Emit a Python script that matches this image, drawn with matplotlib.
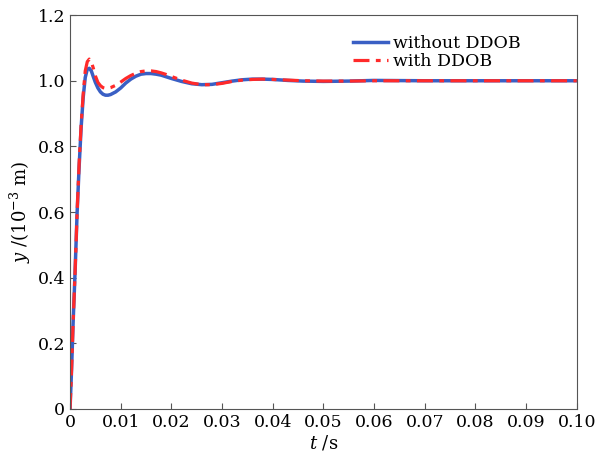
import matplotlib
matplotlib.use("Agg")
import matplotlib.pyplot as plt

t = [0, 0.0003, 0.0006, 0.001, 0.0014, 0.0018, 0.0022, 0.0026, 0.003, 0.0034,
     0.0038, 0.0042, 0.0046, 0.005, 0.0055, 0.006, 0.0065, 0.007, 0.0075, 0.008,
     0.009, 0.010, 0.011, 0.012, 0.013, 0.014, 0.015, 0.016, 0.017, 0.018,
     0.019, 0.020, 0.022, 0.024, 0.026, 0.028, 0.030, 0.032, 0.034, 0.036,
     0.038, 0.040, 0.043, 0.046, 0.050, 0.055, 0.060, 0.07, 0.08, 0.09, 0.1]

y_without = [0, 0.12, 0.26, 0.42, 0.60, 0.74, 0.86, 0.95, 1.01, 1.035,
             1.038, 1.030, 1.012, 0.995, 0.978, 0.966, 0.959, 0.956, 0.956, 0.958,
             0.966, 0.978, 0.993, 1.005, 1.014, 1.020, 1.022, 1.022, 1.020, 1.017,
             1.012, 1.007, 0.998, 0.991, 0.988, 0.989, 0.994, 0.999, 1.003, 1.005,
             1.005, 1.004, 1.001, 0.999, 0.998, 0.999, 1.001, 1.000, 1.000, 1.000, 1.000]

y_with = [0, 0.12, 0.26, 0.42, 0.60, 0.75, 0.87, 0.96, 1.03, 1.058,
          1.066, 1.058, 1.038, 1.015, 0.995, 0.985, 0.979, 0.977, 0.977, 0.979,
          0.986, 0.996, 1.007, 1.016, 1.023, 1.028, 1.030, 1.030, 1.028, 1.024,
          1.019, 1.013, 1.002, 0.993, 0.988, 0.988, 0.992, 0.998, 1.002, 1.004,
          1.005, 1.004, 1.002, 1.000, 0.999, 0.999, 1.000, 1.000, 1.000, 1.000, 1.000]

xticks = [0, 0.01, 0.02, 0.03, 0.04, 0.05, 0.06, 0.07, 0.08, 0.09, 0.10]
xticklabels = ["0", "0.01", "0.02", "0.03", "0.04", "0.05", "0.06", "0.07", "0.08", "0.09", "0.10"]
yticks = [0, 0.2, 0.4, 0.6, 0.8, 1.0, 1.2]
yticklabels = ["0", "0.2", "0.4", "0.6", "0.8", "1.0", "1.2"]

plt.rcParams['font.family'] = ['DejaVu Serif']
plt.rcParams['mathtext.fontset'] = 'dejavuserif'

fig = plt.figure(figsize=(6.09, 4.58), dpi=100)
ax = fig.add_axes([0.115, 0.107, 0.832, 0.860])

ax.plot(t, y_without, color='#3a5fc4', lw=2.5, label='without DDOB', solid_joinstyle='round')
ax.plot(t, y_with, color='#ff2a2a', lw=2.3, linestyle=(0, (5, 2, 1.5, 2)), label='with DDOB')

ax.set_xlim(0, 0.1)
ax.set_ylim(0, 1.2)
ax.set_xticks(xticks)
ax.set_xticklabels(xticklabels)
ax.set_yticks(yticks)
ax.set_yticklabels(yticklabels)
ax.tick_params(direction='in', labelsize=12.5, length=4, width=0.8, color='#555555')
for s in ax.spines.values():
    s.set_color('#555555')
    s.set_linewidth(0.8)

ax.set_xlabel(r'$t$ /s', fontsize=13, labelpad=2)
ax.set_ylabel(r'$y$ /(10$^{-3}$ m)', fontsize=13, labelpad=3)

leg = ax.legend(loc='upper right', bbox_to_anchor=(0.92, 0.99), frameon=False, fontsize=12.5,
                handlelength=2.0, handletextpad=0.3, labelspacing=0.1)

fig.savefig('out.png', dpi=100)
